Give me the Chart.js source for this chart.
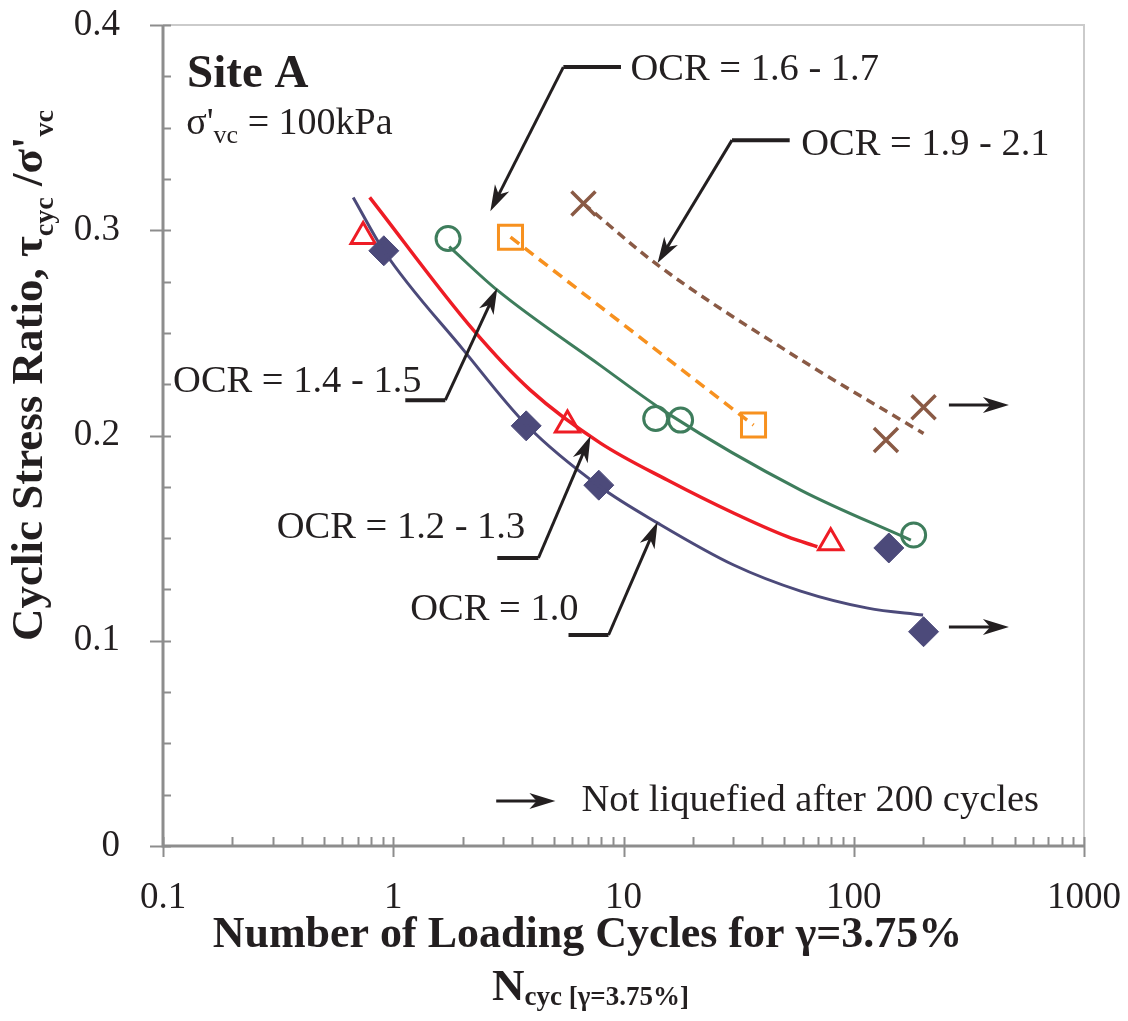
<!DOCTYPE html>
<html>
<head>
<meta charset="utf-8">
<script src="https://cdn.jsdelivr.net/npm/chart.js@4.4.1/dist/chart.umd.min.js"></script>
<style>
  html, body { margin: 0; padding: 0; background: #ffffff; }
  #wrap { width: 1128px; height: 1021px; }
</style>
</head>
<body>
<div id="wrap"><canvas id="c" width="1128" height="1021"></canvas></div>
<script>
// Axis ticks
const xTickValues = [0.1, 1, 10, 100, 1000];
const xTickLabels = ['0.1', '1', '10', '100', '1000'];
const yTickValues = [0, 0.1, 0.2, 0.3, 0.4];
const yTickLabels = ['0', '0.1', '0.2', '0.3', '0.4'];
const yMinorStep = 0.025;

// Test results: cycles to 3.75% strain and cyclic stress ratio
const ocr10Cycles = [0.91, 3.78, 7.81, 142, 201];
const ocr10Csr    = [0.290, 0.2047, 0.1758, 0.1452, 0.1044];
const ocr12Cycles = [0.74, 5.71, 79.4];
const ocr12Csr    = [0.2969, 0.2051, 0.1478];
const ocr14Cycles = [1.73, 13.8, 17.7, 182];
const ocr14Csr    = [0.296, 0.2083, 0.2075, 0.1515];
const ocr16Cycles = [3.23, 36.7];
const ocr16Csr    = [0.2966, 0.2051];
const ocr19Cycles = [6.70, 138, 201];
const ocr19Csr    = [0.313, 0.1978, 0.2138];

// Trend curves
const trend10Cycles = [0.67, 0.91, 2.02, 3.8, 7.94, 14.1, 30.1, 58.8, 115, 200];
const trend10Csr    = [0.316, 0.290, 0.2416, 0.205, 0.1749, 0.1573, 0.1369, 0.1242, 0.1159, 0.1125];
const trend12Cycles = [0.79, 2.23, 3.94, 7.94, 15.5, 30.2, 51.5, 69.5];
const trend12Csr    = [0.316, 0.2513, 0.2221, 0.1963, 0.1783, 0.1621, 0.1507, 0.1458];
const trend14Cycles = [1.75, 2.83, 7.9, 15.5, 58.8, 177];
const trend14Csr    = [0.292, 0.2708, 0.2343, 0.2109, 0.1734, 0.149];
const trend16Cycles = [3.23, 36.7];
const trend16Csr    = [0.2966, 0.2051];
const trend19Cycles = [6.7, 14.1, 53.2, 201];
const trend19Csr    = [0.313, 0.283, 0.240, 0.201];

// Callouts: label text, label anchor (left, baseline) and leader path ending at the arrow tip
const calloutText = ['OCR = 1.6 - 1.7', 'OCR = 1.9 - 2.1', 'OCR = 1.4 - 1.5', 'OCR = 1.2 - 1.3', 'OCR = 1.0'];
const calloutAnchor = [[10.73, 0.3731], [59.1, 0.3366], [0.1106, 0.2213], [0.312, 0.1500], [1.186, 0.1101]];
const calloutPath = [
  [[9.75, 0.3795], [5.48, 0.3795], [2.64, 0.3093]],
  [[52.7, 0.3439], [29.6, 0.3439], [14.06, 0.284]],
  [[1.128, 0.2172], [1.683, 0.2172], [2.83, 0.2718]],
  [[2.83, 0.1403], [4.27, 0.1403], [7.19, 0.1997]],
  [[5.77, 0.1028], [8.61, 0.1028], [14.06, 0.1578]]
];
// "Not liquefied" arrows and the key
const runoutArrows = [
  [[259, 0.2148], [472, 0.2148]],
  [[259, 0.1067], [472, 0.1067]],
  [[2.80, 0.0219], [5.06, 0.0219]]
];
const keyText = 'Not liquefied after 200 cycles';
const keyAnchor = [6.57, 0.0170];
const siteAnchor = [0.1272, 0.3699];
const stressAnchor = [0.1262, 0.3468];

const NAVY = '#4c4a7a', RED = '#ee1c25', GREEN = '#3e7d5c', ORANGE = '#f7911f', BROWN = '#8a5a45';
const INK = '#231f20';
const SERIF = '"Liberation Serif", "Times New Roman", serif';

const pts = (xs, ys) => xs.map((v, i) => ({ x: v, y: ys[i] }));

function drawRuns(ctx, runs, x, y, align) {
  let total = 0;
  runs.forEach(r => { ctx.font = r.f; r.w = ctx.measureText(r.t).width; total += r.w; });
  let cx = align === 'center' ? x - total / 2 : x;
  ctx.textAlign = 'left';
  ctx.textBaseline = 'alphabetic';
  runs.forEach(r => { ctx.font = r.f; ctx.fillText(r.t, cx, y + (r.dy || 0)); cx += r.w; });
}

function arrowHead(ctx, x0, y0, x1, y1, len, half) {
  const a = Math.atan2(y1 - y0, x1 - x0);
  const c = Math.cos(a), s = Math.sin(a);
  const bx = x1 - c * len, by = y1 - s * len;
  const nx = x1 - c * len * 0.72, ny = y1 - s * len * 0.72;
  ctx.beginPath();
  ctx.moveTo(x1, y1);
  ctx.lineTo(bx - s * half, by + c * half);
  ctx.lineTo(nx, ny);
  ctx.lineTo(bx + s * half, by - c * half);
  ctx.closePath();
  ctx.fill();
  return [nx + c * 1, ny + s * 1];
}

const framePlugin = {
  id: 'frame',
  afterDraw(chart) {
    const { ctx, chartArea: a, scales: { x, y } } = chart;
    const P = (v) => [x.getPixelForValue(v[0]), y.getPixelForValue(v[1])];
    ctx.save();

    // plot frame
    ctx.lineCap = 'butt';
    ctx.strokeStyle = '#cbcbcb';
    ctx.lineWidth = 2;
    ctx.beginPath();
    ctx.moveTo(a.left, a.top); ctx.lineTo(a.right, a.top); ctx.lineTo(a.right, a.bottom);
    ctx.stroke();
    ctx.strokeStyle = '#8d8d8d';
    ctx.lineWidth = 3;
    ctx.beginPath();
    ctx.moveTo(a.left, a.top); ctx.lineTo(a.left, a.bottom); ctx.lineTo(a.right, a.bottom);
    ctx.stroke();

    // tick marks
    ctx.lineWidth = 2;
    ctx.strokeStyle = '#8d8d8d';
    ctx.beginPath();
    const nY = Math.round((yTickValues[yTickValues.length - 1] - yTickValues[0]) / yMinorStep);
    for (let k = 0; k <= nY; k++) {
      const p = Math.round(y.getPixelForValue(yTickValues[0] + k * yMinorStep)) + 0.5;
      const major = k % 4 === 0;
      ctx.moveTo(major ? a.left - 13 : a.left, p);
      ctx.lineTo(a.left + 8, p);
    }
    for (let d = 0; d < xTickValues.length; d++) {
      const dec = xTickValues[d];
      const p = Math.round(x.getPixelForValue(dec)) + 0.5;
      ctx.moveTo(p, a.bottom - 9); ctx.lineTo(p, a.bottom + 11);
      if (d < xTickValues.length - 1) {
        for (let m = 2; m <= 9; m++) {
          const q = Math.round(x.getPixelForValue(dec * m)) + 0.5;
          ctx.moveTo(q, a.bottom - 9); ctx.lineTo(q, a.bottom);
        }
      }
    }
    ctx.stroke();

    // leader lines with arrow heads
    ctx.strokeStyle = INK;
    ctx.fillStyle = INK;
    ctx.lineJoin = 'miter';
    calloutPath.forEach(path => {
      const p = path.map(P);
      const n = p.length;
      const end = arrowHead(ctx, p[n - 2][0], p[n - 2][1], p[n - 1][0], p[n - 1][1], 26, 8);
      ctx.lineWidth = 4;
      ctx.beginPath();
      ctx.moveTo(p[0][0], p[0][1]);
      ctx.lineTo(p[1][0], p[1][1]);
      ctx.stroke();
      ctx.lineWidth = 3;
      ctx.beginPath();
      ctx.moveTo(p[1][0], p[1][1]);
      ctx.lineTo(end[0], end[1]);
      ctx.stroke();
    });
    runoutArrows.forEach(path => {
      const p = path.map(P);
      const end = arrowHead(ctx, p[0][0], p[0][1], p[1][0], p[1][1], 26, 8);
      ctx.lineWidth = 3;
      ctx.beginPath();
      ctx.moveTo(p[0][0], p[0][1]);
      ctx.lineTo(end[0], end[1]);
      ctx.stroke();
    });

    // callout labels
    ctx.fillStyle = INK;
    ctx.textAlign = 'left';
    ctx.textBaseline = 'alphabetic';
    ctx.font = '38.5px ' + SERIF;
    calloutText.forEach((t, i) => {
      const p = P(calloutAnchor[i]);
      ctx.fillText(t, p[0], p[1]);
    });
    const kp = P(keyAnchor);
    ctx.fillText(keyText, kp[0], kp[1]);

    // site caption
    const sp = P(siteAnchor);
    ctx.font = 'bold 47px ' + SERIF;
    ctx.fillText('Site A', sp[0], sp[1]);
    const vp = P(stressAnchor);
    drawRuns(ctx, [
      { t: "\u03c3'", f: '38px ' + SERIF },
      { t: 'vc', f: '26px ' + SERIF, dy: 9 },
      { t: ' = 100kPa', f: '38px ' + SERIF }
    ], vp[0], vp[1], 'left');

    // x axis title
    const cx = (a.left + a.right) / 2 - 36;
    ctx.font = 'bold 44px ' + SERIF;
    ctx.textAlign = 'center';
    ctx.fillText('Number of Loading Cycles for \u03b3=3.75%', cx, a.bottom + 101);
    drawRuns(ctx, [
      { t: 'N', f: 'bold 45px ' + SERIF },
      { t: 'cyc [\u03b3=3.75%]', f: 'bold 27px ' + SERIF, dy: 5 }
    ], cx + 3, a.bottom + 154, 'center');

    // y axis title
    ctx.translate(42, 641);
    ctx.rotate(-Math.PI / 2);
    drawRuns(ctx, [
      { t: 'Cyclic Stress Ratio, \u03c4', f: 'bold 45px ' + SERIF },
      { t: 'cyc', f: 'bold 28px ' + SERIF, dy: 11 },
      { t: ' /\u03c3\'', f: 'bold 45px ' + SERIF },
      { t: 'vc', f: 'bold 28px ' + SERIF, dy: 11 }
    ], 0, 0, 'left');

    ctx.restore();
  }
};

const lineDs = (xs, ys, color, width, dash) => ({
  data: pts(xs, ys),
  showLine: true,
  borderColor: color,
  borderWidth: width,
  borderDash: dash || [],
  borderCapStyle: 'butt',
  pointRadius: 0,
  cubicInterpolationMode: 'monotone',
  fill: false
});
const markDs = (xs, ys, color, style, radius, bw, filled) => ({
  data: pts(xs, ys),
  showLine: false,
  pointStyle: style,
  pointRadius: radius,
  pointBorderWidth: bw,
  pointBorderColor: color,
  pointBackgroundColor: filled ? color : 'rgba(0,0,0,0)'
});

new Chart(document.getElementById('c'), {
  type: 'scatter',
  data: {
    datasets: [
      lineDs(trend10Cycles, trend10Csr, NAVY, 3),
      lineDs(trend12Cycles, trend12Csr, RED, 3.5),
      lineDs(trend14Cycles, trend14Csr, GREEN, 3),
      lineDs(trend16Cycles, trend16Csr, ORANGE, 3.5, [11, 7]),
      lineDs(trend19Cycles, trend19Csr, BROWN, 3.5, [9, 6]),
      markDs(ocr10Cycles, ocr10Csr, NAVY, 'rectRot', 15, 1, true),
      markDs(ocr12Cycles, ocr12Csr, RED, 'triangle', 14, 3, false),
      markDs(ocr14Cycles, ocr14Csr, GREEN, 'circle', 12, 3, false),
      markDs(ocr16Cycles, ocr16Csr, ORANGE, 'rect', 17, 3, false),
      markDs(ocr19Cycles, ocr19Csr, BROWN, 'crossRot', 17, 3.5, false)
    ]
  },
  options: {
    responsive: false,
    devicePixelRatio: 1,
    animation: false,
    layout: { padding: { top: 25, right: 44, bottom: 0, left: 0 } },
    plugins: { legend: { display: false }, tooltip: { enabled: false } },
    scales: {
      x: {
        type: 'logarithmic',
        min: 0.1,
        max: 1000,
        grid: { display: false },
        border: { display: false },
        afterBuildTicks: s => { s.ticks = xTickValues.map(v => ({ value: v })); },
        afterFit: s => { s.height = 175; s.paddingLeft = 0; s.paddingRight = 0; },
        ticks: {
          autoSkip: false,
          maxRotation: 0,
          padding: 22,
          color: INK,
          font: { family: SERIF, size: 37 },
          callback: (v, i) => xTickLabels[i]
        }
      },
      y: {
        min: 0,
        max: 0.4,
        grid: { display: false },
        border: { display: false },
        afterBuildTicks: s => { s.ticks = yTickValues.map(v => ({ value: v })); },
        afterFit: s => { s.width = 163; s.paddingTop = 0; s.paddingBottom = 0; },
        ticks: {
          padding: 35,
          color: INK,
          font: { family: SERIF, size: 37 },
          callback: (v, i) => yTickLabels[i]
        }
      }
    }
  },
  plugins: [framePlugin]
});
</script>
</body>
</html>
